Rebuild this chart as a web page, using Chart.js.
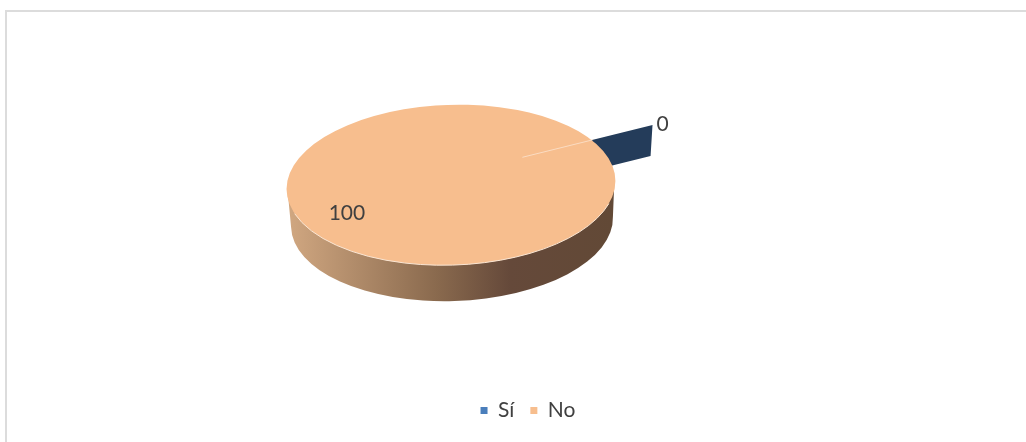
<!DOCTYPE html>
<html><head><meta charset="utf-8">
<style>html,body{margin:0;padding:0;background:#fff}canvas{display:block}</style>
<script src="https://cdn.jsdelivr.net/npm/chart.js@4/dist/chart.umd.js"></script>
</head><body>
<canvas id="c" width="1026" height="442"></canvas>
<script>
const categories = ["Sí", "No"];
const seriesValues = [0, 100];
const sliceColors = ["#4a7ebb", "#f7be8e"];

// Projection of the flat pie into the tilted 3D view
const view = {cx: 451, cy: 185, squash: 0.487, radius: 164.5, tilt: -0.032};
const base = {cx: 452, cy: 222, rx: 161, ry: 79};
const wedge = {inner: 0.487, outer: 0.888, lift: 10, depth: 31, shiftX: -2};
const textColor = "#404040";
const font = 'Lato, "Open Sans", sans-serif';

function px(a, r){ return view.cx + Math.cos(a) * r; }
function py(a, r){ return view.cy + Math.sin(a) * r * view.squash; }

const pie3d = {
  id: "pie3d",
  beforeDraw(chart){
    const c = chart.ctx;
    c.save();
    c.strokeStyle = "#dcdcdc"; c.lineWidth = 2;
    c.beginPath(); c.moveTo(6, 442); c.lineTo(6, 11); c.lineTo(1026, 11); c.stroke();
    c.restore();
  },
  beforeDatasetsDraw(chart){
    const c = chart.ctx, arcs = chart.getDatasetMeta(0).data;
    // side wall of the disc: one closed outline from the top rim round the lower rim
    const g = c.createLinearGradient(291, 0, 613, 0);
    g.addColorStop(0, "#cfa680");
    g.addColorStop(0.45, "#8a6a4e");
    g.addColorStop(0.68, "#65493a");
    g.addColorStop(1, "#624936");
    const cs = Math.cos(view.tilt) * view.radius, sn = Math.sin(view.tilt) * view.radius;
    c.save();
    c.fillStyle = g;
    c.beginPath();
    c.moveTo(view.cx - cs + 1, view.cy - sn);
    c.lineTo(view.cx + cs - 1, view.cy + sn);
    c.ellipse(base.cx, base.cy, base.rx, base.ry, view.tilt, 0, Math.PI);
    c.closePath();
    c.fill();
    // radial wall of the exploded zero-size slice
    const a = arcs[0].startAngle, R = view.radius;
    const ix = px(a, R * wedge.inner), iy = py(a, R * wedge.inner) - wedge.lift;
    const ox = px(a, R * (wedge.inner + wedge.outer)), oy = py(a, R * (wedge.inner + wedge.outer)) - wedge.lift;
    chart.$wedgeTip = {x: ox, y: oy, ix, iy};
    c.fillStyle = "#243c5a";
    c.beginPath();
    c.moveTo(ix, iy); c.lineTo(ox, oy);
    c.lineTo(ox + wedge.shiftX, oy + wedge.depth);
    c.lineTo(ix + wedge.shiftX, iy + wedge.depth);
    c.closePath(); c.fill();
    c.restore();
    // tilt the flat pie
    const arc = arcs[1];
    c.save();
    c.translate(view.cx, view.cy);
    c.rotate(view.tilt);
    c.scale(1, view.squash);
    c.translate(-arc.x, -arc.y);
  },
  afterDatasetsDraw(chart){
    const c = chart.ctx, arcs = chart.getDatasetMeta(0).data;
    c.restore();
    c.save();
    // rim highlight on the near edge
    c.strokeStyle = "#fbe6d3"; c.lineWidth = 1;
    c.beginPath();
    c.ellipse(view.cx, view.cy, view.radius, view.radius * view.squash, view.tilt, 0.3, Math.PI - 0.3);
    c.stroke();
    // top sliver of the zero slice, over the disc
    const t = chart.$wedgeTip;
    const ex = t.ix + (t.x - t.ix) * 0.54, ey = t.iy + (t.y - t.iy) * 0.54;
    c.strokeStyle = "#fbdcc2"; c.lineWidth = 1;
    c.beginPath(); c.moveTo(t.ix, t.iy); c.lineTo(ex, ey); c.stroke();
    // data labels
    c.fillStyle = textColor;
    c.font = "21px " + font;
    c.textAlign = "center"; c.textBaseline = "middle";
    c.fillText(String(seriesValues[0]), t.x + 10, t.y - 1);
    const mid = (arcs[1].startAngle + arcs[1].endAngle) / 2;
    c.fillText(String(seriesValues[1]), px(mid, view.radius * 0.71), py(mid, view.radius * 0.71) + 2);
    c.restore();
  }
};

new Chart(document.getElementById("c"), {
  type: "pie",
  data: {
    labels: categories,
    datasets: [{
      data: seriesValues,
      backgroundColor: sliceColors,
      borderWidth: 0,
      radius: view.radius
    }]
  },
  options: {
    responsive: false,
    animation: false,
    rotation: 63,
    layout: {padding: {left: 30, bottom: 11}},
    plugins: {
      tooltip: {enabled: false},
      title: {display: false},
      legend: {
        display: true,
        position: "bottom",
        labels: {
          boxWidth: 7, boxHeight: 7, padding: 16,
          color: textColor,
          font: {family: font, size: 21}
        }
      }
    }
  },
  plugins: [pie3d]
});
</script>
</body></html>
